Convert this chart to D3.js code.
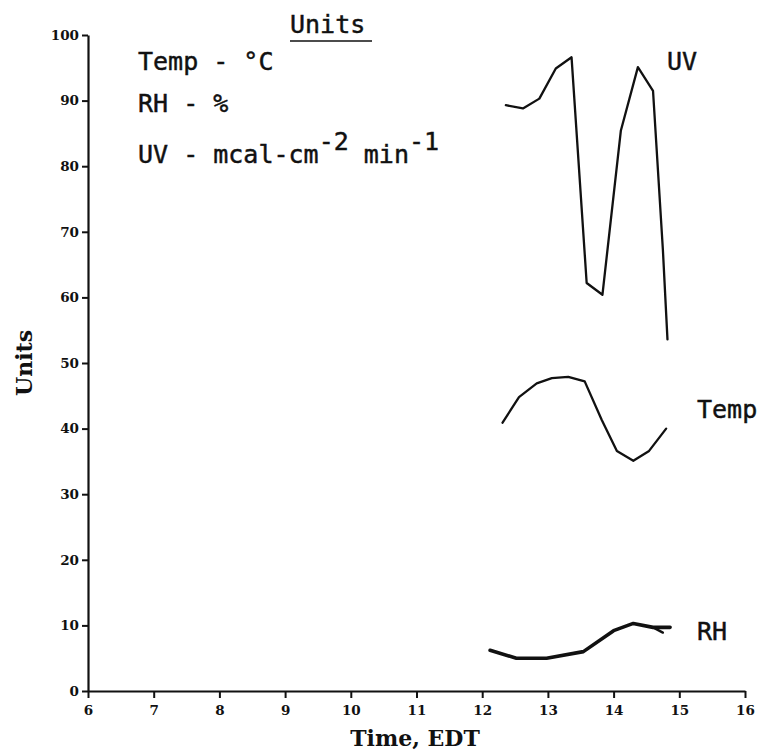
<!DOCTYPE html>
<html>
<head>
<meta charset="utf-8">
<script src="https://cdn.jsdelivr.net/npm/d3@7"></script>
<style>
  body { margin: 0; background: #fff; }
  svg { display: block; }
  .tick text { font-family: "DejaVu Serif", serif; font-weight: bold; font-size: 13.5px; }
  .mono { font-family: "DejaVu Sans Mono", monospace; font-size: 25px; fill: #111; stroke: #111; stroke-width: 0.45; }
</style>
</head>
<body>
<svg id="chart" width="760" height="755"></svg>
<script>
// values (time in hours EDT, value in units)
const uvTime = [12.36, 12.62, 12.87, 13.12, 13.36, 13.59, 13.83, 14.11, 14.37, 14.60, 14.75, 14.82];
const uvVal  = [89.3, 88.8, 90.3, 94.9, 96.6, 62.2, 60.4, 85.4, 95.1, 91.5, 67.3, 53.6];

const tempTime = [12.31, 12.56, 12.83, 13.06, 13.31, 13.56, 13.82, 14.05, 14.30, 14.54, 14.80];
const tempVal  = [40.9, 44.8, 46.9, 47.7, 47.9, 47.2, 41.3, 36.6, 35.1, 36.6, 40.0];

const rhTime = [12.12, 12.52, 12.98, 13.54, 14.00, 14.30, 14.60, 14.86];
const rhVal  = [6.2, 5.0, 5.0, 6.0, 9.2, 10.3, 9.7, 9.7];
// short lower branch at the end of the RH trace
const rhTailTime = [14.60, 14.75];
const rhTailVal  = [9.7, 8.9];

const xTicks = [6, 7, 8, 9, 10, 11, 12, 13, 14, 15, 16];
const yTicks = [0, 10, 20, 30, 40, 50, 60, 70, 80, 90, 100];

const svg = d3.select('#chart');

const x = d3.scaleLinear().domain([6, 16]).range([88, 745]);
const y = d3.scaleLinear().domain([0, 100]).range([691, 35]);

// axes
const xAxis = svg.append('g')
  .attr('transform', `translate(0,${y(0)})`)
  .call(d3.axisBottom(x).tickValues(xTicks).tickSize(7).tickPadding(7).tickSizeOuter(0));
const yAxis = svg.append('g')
  .attr('transform', `translate(${x(6)},0)`)
  .call(d3.axisLeft(y).tickValues(yTicks).tickSize(6).tickPadding(3).tickSizeOuter(0));

[xAxis, yAxis].forEach(a => {
  a.select('.domain').attr('stroke', '#111').attr('stroke-width', 2.2);
  a.selectAll('.tick line').attr('stroke', '#111').attr('stroke-width', 2);
  a.selectAll('.tick text').attr('fill', '#111');
});

// axis titles
svg.append('text')
  .attr('x', 415).attr('y', 746)
  .attr('text-anchor', 'middle')
  .style('font-family', '"DejaVu Serif", serif')
  .style('font-weight', 'bold')
  .style('font-size', '22px')
  .attr('fill', '#111')
  .text('Time, EDT');

svg.append('text')
  .attr('transform', `translate(32,${y(50)}) rotate(-90)`)
  .attr('text-anchor', 'middle')
  .style('font-family', '"DejaVu Serif", serif')
  .style('font-weight', 'bold')
  .style('font-size', '22px')
  .attr('fill', '#111')
  .text('Units');

// lines
const line = d3.line().x(d => x(d[0])).y(d => y(d[1]));
const series = [
  { t: uvTime, v: uvVal, w: 2.3 },
  { t: tempTime, v: tempVal, w: 2.3 },
  { t: rhTime, v: rhVal, w: 3.6 },
  { t: rhTailTime, v: rhTailVal, w: 2.4 }
];
svg.append('g')
  .selectAll('path')
  .data(series)
  .enter().append('path')
  .attr('d', s => line(s.t.map((t, i) => [t, s.v[i]])))
  .attr('fill', 'none')
  .attr('stroke', '#111')
  .attr('stroke-width', s => s.w)
  .attr('stroke-linejoin', 'round')
  .attr('stroke-linecap', 'round');

// series labels
svg.append('text').attr('class', 'mono').attr('x', 667).attr('y', 70).text('UV');
svg.append('text').attr('class', 'mono').attr('x', 697).attr('y', 418).text('Temp');
svg.append('text').attr('class', 'mono').attr('x', 697).attr('y', 640).text('RH');

// units legend
svg.append('text').attr('class', 'mono').attr('x', 290).attr('y', 33).text('Units');
svg.append('line')
  .attr('x1', 290).attr('x2', 372).attr('y1', 41).attr('y2', 41)
  .attr('stroke', '#111').attr('stroke-width', 1.5);

svg.append('text').attr('class', 'mono').attr('x', 138).attr('y', 70).text('Temp - °C');
svg.append('text').attr('class', 'mono').attr('x', 138).attr('y', 112).text('RH - %');
const uvText = svg.append('text').attr('class', 'mono').attr('x', 138).attr('y', 163);
uvText.append('tspan').text('UV - mcal-cm');
uvText.append('tspan').attr('dy', -13).text('-2');
uvText.append('tspan').attr('dy', 13).text(' min');
uvText.append('tspan').attr('dy', -13).text('-1');
</script>
</body>
</html>
